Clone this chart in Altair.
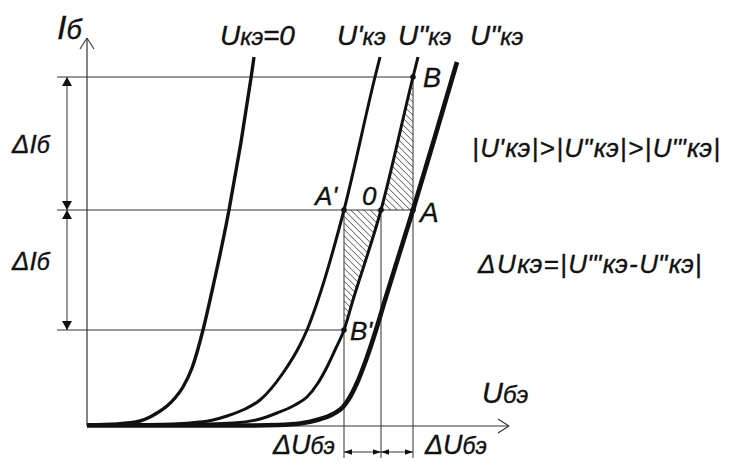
import altair as alt
import pandas as pd
import numpy as np

# ---- input characteristics  I_б (y)  vs  U_бэ (x), drawing units ----
c0_u = [0, 30, 53, 63, 70, 80, 88, 96, 105, 116, 123, 142, 164, 167]
c0_i = [1, 2, 5, 9, 13, 20, 28, 39, 58, 96, 126, 216, 348, 369]
c1_u = [0, 63, 103, 126, 140, 158, 173, 196, 213, 220, 231, 257, 288, 293]
c1_i = [1, 1.5, 3, 6, 10, 17, 26, 53, 81, 96, 126, 216, 349, 369]
c2_u = [0, 93, 146, 173, 190, 208, 220, 231, 240, 248, 257, 266, 294, 326, 331]
c2_i = [1, 1.5, 3, 7, 13, 21, 29, 43, 59, 76, 96, 126, 216, 349, 369]
c3_u = [0, 163, 191, 213, 230, 246, 256, 263, 270, 279, 289, 298, 326, 347, 370]
c3_i = [0.5, 0.5, 1, 2.5, 6, 12, 19, 29, 43, 66, 96, 126, 216, 286, 364]
curve_w = [3.4, 3.0, 3.0, 4.6]

# key levels / points
I_top, I_mid, I_low = 349, 216, 96
U_A1, U_O, U_A = 257, 294, 326
pts = {"A'": (U_A1, I_mid), "O": (U_O, I_mid), "A": (U_A, I_mid),
       "B": (U_A, I_top), "B'": (U_A1, I_low)}
x_end, y_end = 422, 388
x_min, x_max, y_min, y_max = -79, 636, -32, 418

# ---- curves ----
rows = []
for k, (us, is_) in enumerate([(c0_u, c0_i), (c1_u, c1_i), (c2_u, c2_i), (c3_u, c3_i)]):
    for j, (u, i) in enumerate(zip(us, is_)):
        rows.append(dict(c=k, o=j, u=u, i=i, w=curve_w[k]))
curves = pd.DataFrame(rows)

# ---- thin construction lines ----
segs = [
    (0, 0, 0, y_end, 1.2), (-7, y_end - 11, 0, y_end, 1.1), (7, y_end - 11, 0, y_end, 1.1),
    (0, 0, x_end, 0, 1.2), (x_end - 11, 7, x_end, 0, 1.1), (x_end - 11, -7, x_end, 0, 1.1),
    (-30, I_top, U_A, I_top, 1.0), (-30, I_mid, U_A, I_mid, 1.0), (-30, I_low, U_A1, I_low, 1.0),
    (U_A1, I_mid, U_A1, y_min, 1.0), (U_O, I_mid, U_O, y_min, 1.0), (U_A, I_top, U_A, y_min, 1.0),
    (-20, I_low, -20, I_top, 1.0), (U_A1, -26, U_A, -26, 1.0),
]
lines = pd.DataFrame(segs, columns=["x", "y", "x2", "y2", "w"])

# ---- hatching of the two triangles ----
def hatch(poly, step=6.5):
    out = []
    cs = [p[0] + p[1] for p in poly]
    c = min(cs) + step / 2
    while c < max(cs):
        hits = []
        n = len(poly)
        for a in range(n):
            (x1, y1), (x2, y2) = poly[a], poly[(a + 1) % n]
            f1, f2 = x1 + y1 - c, x2 + y2 - c
            if f1 == f2:
                continue
            t = f1 / (f1 - f2)
            if 0 <= t <= 1:
                hits.append((x1 + t * (x2 - x1), y1 + t * (y2 - y1)))
        if len(hits) >= 2:
            hits.sort()
            out.append((hits[0][0], hits[0][1], hits[-1][0], hits[-1][1]))
        c += step
    return out

hat = hatch([pts["O"], pts["B"], pts["A"]]) + hatch([pts["A'"], pts["O"], pts["B'"]])
hatch_df = pd.DataFrame(hat, columns=["x", "y", "x2", "y2"])

# ---- arrowheads ----
up = "M0,0L-1,1.8L1,1.8Z"
dn = "M0,0L-1,-1.8L1,-1.8Z"
lf = "M0,0L2,-0.7L2,0.7Z"
rt = "M0,0L-2,-0.7L-2,0.7Z"
heads = pd.DataFrame([
    (-20, I_top, up, 100), (-20, I_mid, dn, 100), (-20, I_mid, up, 100), (-20, I_low, dn, 100),
    (U_A1, -26, lf, 64), (U_O, -26, rt, 64), (U_O, -26, lf, 64), (U_A, -26, rt, 64),
], columns=["x", "y", "shape", "size"])

dots = pd.DataFrame([(v[0], v[1]) for v in pts.values()], columns=["x", "y"])

# ---- texts ----
W = {'U': .722, 'I': .278, 'A': .667, 'B': .667, 'Δ': .67, "'": .191, '"': .355, '=': .584,
     '0': .556, '|': .26, '>': .584, '-': .333, 'к': .44, 'э': .51, 'б': .556}

def tw(s, size):
    return sum(W.get(ch, .55) for ch in s) * size

def place(parts, x0, y0, gap=0.0):
    r, x = [], x0
    for s, size in parts:
        r.append(dict(t=s, x=x, y=y0, s=size))
        x += tw(s, size) + gap
    return r

M, S = 28, 24
texts = []
texts += place([("U", M), ("кэ", S), ("=0", M)], 133, 381)
texts += place([("U'", M), ("кэ", S)], 250, 381)
texts += place([('U"', M), ("кэ", S)], 311, 381)
texts += place([('U"', M), ("кэ", S)], 383, 381)
texts += place([("I", 34), ("б", 27)], -30, 387)
texts += place([("ΔI", 26), ("б", 23)], -75, 273)
texts += place([("ΔI", 26), ("б", 23)], -75, 156)
texts += place([("U", 29), ("бэ", 24)], 395, 23)
texts += place([("ΔU", 27), ("бэ", 23)], 186, -27.5)
texts += place([("ΔU", 27), ("бэ", 23)], 338, -27.5)
t1 = ["|", "U'", "кэ", "|", ">", "|", 'U"', "кэ", "|", ">", "|", "U'\"", "кэ", "|"]
texts += place([(s, 26) for s in t1], 385, 269, gap=1.4)
t2 = ["Δ", "U", "кэ", "=", "|", "U'\"", "кэ", "-", 'U"', "кэ", "|"]
texts += place([(s, 26) for s in t2], 391, 153, gap=1.5)
texts += place([("B", 27)], 336, 339)
texts += place([("A'", 26)], 228, 221)
texts += place([("0", 26)], 275, 221)
texts += place([("A", 28)], 333, 204)
texts += place([("B'", 26)], 263, 86)
text_df = pd.DataFrame(texts)

xs = alt.Scale(domain=[x_min, x_max], nice=False, zero=False)
ys = alt.Scale(domain=[y_min, y_max], nice=False, zero=False)

def X(f):
    return alt.X(f, type="quantitative", scale=xs, axis=None)

def Y(f):
    return alt.Y(f, type="quantitative", scale=ys, axis=None)

thin = alt.Chart(lines).mark_rule(color="#333333").encode(
    x=X("x"), y=Y("y"), x2="x2:Q", y2="y2:Q", strokeWidth=alt.StrokeWidth("w:Q", scale=None))
hat_l = alt.Chart(hatch_df).mark_rule(color="#222222", strokeWidth=0.8).encode(
    x=X("x"), y=Y("y"), x2="x2:Q", y2="y2:Q")
curve_l = alt.Chart(curves).mark_line(color="#111111", interpolate="monotone").encode(
    x=X("u"), y=Y("i"), detail="c:N", order="o:Q",
    strokeWidth=alt.StrokeWidth("w:Q", scale=None))
head_l = alt.Chart(heads).mark_point(filled=True, color="#111111", opacity=1, strokeWidth=0).encode(
    x=X("x"), y=Y("y"), shape=alt.Shape("shape:N", scale=None), size=alt.Size("size:Q", scale=None))
dot_l = alt.Chart(dots).mark_circle(color="#111111", opacity=1, size=30).encode(x=X("x"), y=Y("y"))
text_l = alt.Chart(text_df).mark_text(
    align="left", baseline="alphabetic", font="Liberation Sans", fontStyle="italic",
    color="#111111", stroke="#111111", strokeWidth=0.35
).encode(x=X("x"), y=Y("y"), text="t:N", size=alt.Size("s:Q", scale=None))

chart = alt.layer(thin, hat_l, curve_l, head_l, dot_l, text_l).properties(
    width=715, height=450, padding=0, autosize=alt.AutoSizeParams(type="none"),
    background="white"
).configure_view(stroke=None)

chart.save("out.html", embed_options={"renderer": "svg", "actions": False})
